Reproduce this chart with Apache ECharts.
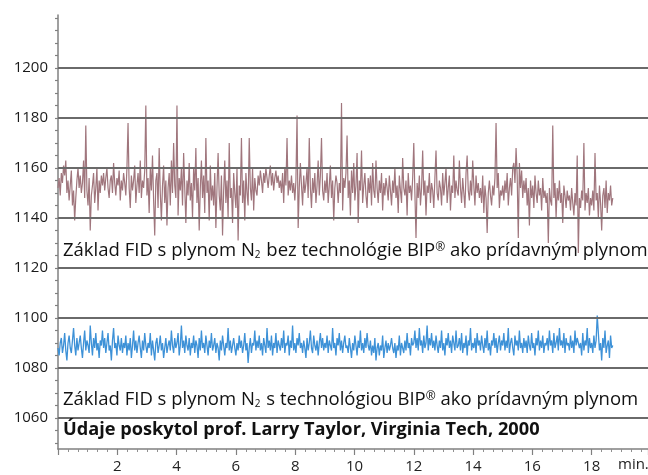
<!DOCTYPE html>
<html>
<head>
<meta charset="utf-8">
<script src="https://cdn.jsdelivr.net/npm/echarts@6/dist/echarts.min.js"></script>
<style>
html,body{margin:0;padding:0;background:#fff;}
#c{width:648px;height:475px;}
</style>
</head>
<body>
<div id="c"></div>
<script>
// sampling interval (minutes)
const timeStep = 0.0375;

// FID baseline with N2, without BIP technology
const seriesNoBIP = [
 1152,1156,1149,1158,1154,1161,1157,1163,1150,1155,1147,1153,1159,1145,1151,1139,1148,1155,1160,1152,
 1157,1150,1154,1163,1148,1177,1151,1145,1156,1135,1149,1153,1158,1146,1152,1160,1143,1155,1150,1157,
 1153,1158,1151,1156,1160,1152,1148,1155,1157,1150,1162,1154,1149,1156,1153,1159,1147,1155,1151,1158,
 1154,1149,1160,1178,1152,1144,1157,1151,1155,1161,1146,1153,1158,1150,1163,1148,1155,1152,1159,1185,
 1149,1156,1142,1160,1151,1165,1147,1133,1155,1158,1144,1168,1150,1139,1153,1161,1146,1155,1137,1152,
 1158,1145,1163,1150,1170,1153,1148,1185,1141,1156,1151,1160,1145,1166,1152,1138,1155,1149,1162,1147,
 1154,1140,1160,1151,1168,1146,1156,1135,1152,1163,1148,1157,1142,1172,1150,1155,1139,1161,1147,1153,
 1145,1158,1136,1152,1166,1149,1143,1157,1133,1151,1163,1146,1155,1140,1170,1148,1152,1138,1158,1150,
 1144,1160,1131,1153,1149,1172,1146,1155,1139,1158,1150,1145,1172,1152,1147,1160,1143,1156,1151,1149,
 1157,1153,1159,1155,1150,1158,1154,1160,1156,1152,1157,1161,1153,1158,1151,1156,1159,1154,1157,1152,
 1155,1150,1158,1146,1160,1153,1172,1149,1155,1151,1157,1150,1154,1147,1155,1181,1136,1152,1162,1153,
 1145,1157,1150,1154,1160,1148,1172,1152,1144,1156,1150,1158,1146,1153,1163,1149,1157,1172,1151,1147,
 1155,1150,1158,1146,1153,1161,1148,1155,1139,1152,1157,1154,1146,1154,1150,1186,1143,1156,1152,1158,
 1173,1148,1155,1141,1159,1150,1162,1147,1153,1166,1138,1155,1151,1167,1146,1153,1158,1149,1144,1156,
 1150,1157,1145,1162,1151,1148,1163,1152,1146,1155,1150,1158,1143,1154,1149,1156,1152,1147,1157,1151,
 1145,1155,1150,1160,1148,1153,1142,1157,1151,1146,1164,1152,1149,1155,1141,1158,1150,1153,1147,1156,
 1170,1150,1132,1154,1148,1157,1145,1152,1167,1149,1155,1141,1153,1150,1158,1146,1154,1151,1144,1156,
 1167,1150,1147,1155,1152,1145,1158,1149,1154,1160,1146,1152,1157,1143,1153,1150,1165,1148,1155,1151,
 1149,1163,1152,1146,1156,1150,1144,1158,1165,1151,1147,1155,1149,1163,1153,1145,1157,1150,1154,1148,
 1152,1146,1157,1142,1153,1148,1134,1150,1155,1149,1145,1153,1149,1156,1178,1152,1158,1144,1151,1149,
 1153,1147,1155,1150,1158,1145,1152,1156,1149,1160,1162,1154,1168,1157,1132,1162,1152,1159,1148,1155,
 1150,1156,1145,1152,1137,1155,1148,1153,1144,1157,1150,1146,1155,1149,1152,1143,1156,1148,1151,1146,
 1150,1130,1152,1147,1145,1177,1148,1154,1140,1152,1147,1155,1146,1150,1138,1153,1149,1144,1151,1147,
 1149,1143,1152,1146,1141,1150,1145,1165,1126,1148,1144,1151,1147,1170,1143,1150,1146,1152,1141,1148,
 1145,1151,1143,1166,1147,1150,1140,1153,1146,1135,1149,1152,1144,1155,1142,1150,1147,1153,1145,1148
];

// FID baseline with N2, with BIP technology
const seriesBIP = [
 1088,1085,1090,1092,1086,1089,1094,1087,1083,1090,1093,1088,1086,1091,1096,1089,1085,1092,1087,1090,
 1093,1088,1084,1090,1095,1087,1091,1089,1086,1097,1090,1085,1092,1088,1094,1087,1090,1084,1091,1089,
 1095,1088,1092,1086,1090,1094,1087,1089,1083,1091,1096,1088,1090,1085,1093,1089,1087,1092,1086,1090,
 1088,1093,1085,1090,1087,1092,1084,1089,1095,1087,1091,1086,1090,1093,1088,1084,1091,1087,1094,1089,
 1086,1090,1088,1094,1085,1091,1087,1083,1090,1092,1086,1089,1093,1087,1090,1084,1088,1092,1086,1089,
 1091,1087,1095,1089,1086,1092,1088,1090,1094,1085,1089,1097,1088,1091,1086,1093,1089,1087,1092,1085,
 1090,1088,1093,1086,1091,1089,1084,1092,1087,1095,1088,1090,1086,1093,1089,1085,1091,1088,1094,1087,
 1089,1092,1086,1090,1088,1083,1091,1087,1093,1089,1085,1090,1088,1096,1087,1091,1086,1089,1092,1088,
 1085,1090,1087,1093,1088,1091,1086,1089,1094,1087,1090,1082,1088,1092,1086,1090,1089,1095,1087,1091,
 1088,1093,1087,1090,1085,1092,1089,1086,1096,1088,1091,1087,1093,1085,1090,1088,1094,1086,1091,1089,
 1087,1092,1088,1095,1086,1090,1089,1093,1085,1091,1088,1097,1087,1090,1086,1092,1089,1094,1088,1090,
 1086,1091,1088,1084,1092,1087,1090,1095,1088,1086,1093,1089,1087,1091,1085,1090,1094,1088,1092,1087,
 1090,1088,1093,1086,1091,1089,1087,1096,1088,1090,1085,1092,1089,1094,1087,1091,1086,1090,1093,1088,
 1089,1086,1092,1088,1084,1090,1087,1093,1089,1085,1091,1088,1095,1087,1090,1086,1092,1088,1094,1089,
 1087,1091,1085,1089,1086,1092,1083,1088,1090,1085,1089,1087,1093,1084,1088,1091,1086,1090,1087,1089,
 1092,1088,1086,1090,1084,1089,1087,1093,1085,1090,1088,1086,1091,1087,1094,1088,1090,1085,1092,1089,
 1090,1095,1088,1092,1087,1096,1089,1091,1086,1093,1088,1090,1097,1087,1092,1089,1094,1088,1091,1087,
 1093,1089,1086,1091,1088,1095,1087,1090,1085,1092,1089,1094,1088,1091,1086,1093,1090,1087,1095,1088,
 1089,1092,1087,1094,1086,1090,1088,1093,1085,1091,1089,1096,1087,1090,1088,1092,1086,1094,1089,1091,
 1087,1093,1089,1086,1092,1088,1095,1087,1090,1085,1091,1089,1094,1088,1092,1086,1090,1093,1087,1091,
 1089,1094,1087,1091,1088,1096,1086,1090,1092,1088,1085,1093,1089,1091,1087,1095,1088,1090,1086,1092,
 1088,1091,1086,1093,1089,1087,1094,1088,1090,1085,1092,1089,1095,1087,1091,1088,1093,1086,1090,1089,
 1092,1087,1095,1089,1091,1086,1094,1088,1090,1093,1087,1096,1089,1091,1088,1094,1086,1092,1089,1090,
 1087,1093,1088,1091,1086,1095,1089,1092,1090,1088,1090,1085,1094,1087,1091,1089,1096,1086,1092,1088,
 1090,1086,1093,1088,1091,1101,1094,1087,1090,1083,1092,1088,1095,1086,1089,1091,1084,1093,1088,1089
];

const yTickLabels = [1060, 1080, 1100, 1120, 1140, 1160, 1180, 1200];
const yMinorTicks = [1050,1055,1060,1065,1070,1075,1080,1085,1090,1095,1100,1105,1110,1115,1120,1125,1130,1135,1140,1145,1150,1155,1160,1165,1170,1175,1180,1185,1190,1195,1200,1205,1210,1215,1220];
const xTickLabels = [2, 4, 6, 8, 10, 12, 14, 16, 18];
const xUnit = 'min.';

const labelNoBIP = 'Základ FID s plynom N{sub|2} bez technológie BIP{sup|®} ako prídavným plynom';
const labelBIP = 'Základ FID s plynom N{sub|2} s technológiou BIP{sup|®} ako prídavným plynom';
const labelSource = 'Údaje poskytol prof. Larry Taylor, Virginia Tech, 2000';

const toPairs = arr => arr.map((v, i) => [Math.round(i * timeStep * 10000) / 10000, v]);

const FONT = '"Open Sans", sans-serif';
const chart = echarts.init(document.getElementById('c'), null, {renderer: 'canvas'});

const richText = {
  sub: {fontSize: 10, fontFamily: FONT, fill: '#111', padding: [10, 1, 0, 0]},
  sup: {fontSize: 12, fontFamily: FONT, fill: '#111', padding: [0, 0, 6, 0]}
};

chart.setOption({
  animation: false,
  backgroundColor: '#fff',
  grid: {left: 58, right: 0, top: 15, bottom: 26},
  xAxis: {
    type: 'value', min: 0, max: 19.9, interval: 2,
    axisLine: {show: true, lineStyle: {color: '#808080', width: 1.5}},
    axisTick: {show: true, length: 6, lineStyle: {color: '#808080', width: 1.2}},
    minorTick: {show: true, splitNumber: 6, length: 3, lineStyle: {color: '#909090', width: 1}},
    splitLine: {show: false},
    axisLabel: {
      showMinLabel: false, showMaxLabel: false, margin: 10,
      fontSize: 15, fontFamily: FONT, color: '#222',
      formatter: v => (xTickLabels.indexOf(v) >= 0 ? String(v) : '')
    }
  },
  yAxis: {
    type: 'value', min: 1047.6, max: 1221.2,
    axisLine: {show: true, lineStyle: {color: '#808080', width: 1.5}},
    axisTick: {show: true, length: 3, customValues: yMinorTicks, lineStyle: {color: '#808080', width: 1.2}},
    splitLine: {show: false},
    axisLabel: {customValues: yTickLabels, margin: 10, fontSize: 15, fontFamily: FONT, color: '#1a1a1a',
      formatter: v => String(v)}
  },
  series: [
    {
      type: 'line', data: toPairs(seriesNoBIP), showSymbol: false, symbol: 'none',
      lineStyle: {color: '#a0767d', width: 1.2}, z: 2
    },
    {
      type: 'line', data: toPairs(seriesBIP), showSymbol: false, symbol: 'none',
      lineStyle: {color: '#3d91d7', width: 1.3}, z: 2
    },
    {
      type: 'line', data: [], z: 3, silent: true,
      markLine: {
        silent: true, symbol: 'none', animation: false,
        label: {show: false},
        lineStyle: {color: '#6a6a6a', width: 2.2, type: 'solid'},
        data: yTickLabels.map(v => ({yAxis: v}))
      }
    }
  ],
  graphic: [
    {type: 'text', left: 63, top: 241, z: 10, style: {text: labelNoBIP, fontSize: 18.5, fontFamily: FONT, fill: '#111', rich: richText}},
    {type: 'text', left: 63, top: 390, z: 10, style: {text: labelBIP, fontSize: 18.5, fontFamily: FONT, fill: '#111', rich: richText}},
    {type: 'text', left: 63, top: 421, z: 10, style: {text: labelSource, fontSize: 18.2, fontWeight: 'bold', fontFamily: FONT, fill: '#111'}},
    {type: 'text', left: 618, top: 457, z: 10, style: {text: xUnit, fontSize: 15, fontFamily: FONT, fill: '#222'}}
  ]
});
</script>
</body>
</html>
